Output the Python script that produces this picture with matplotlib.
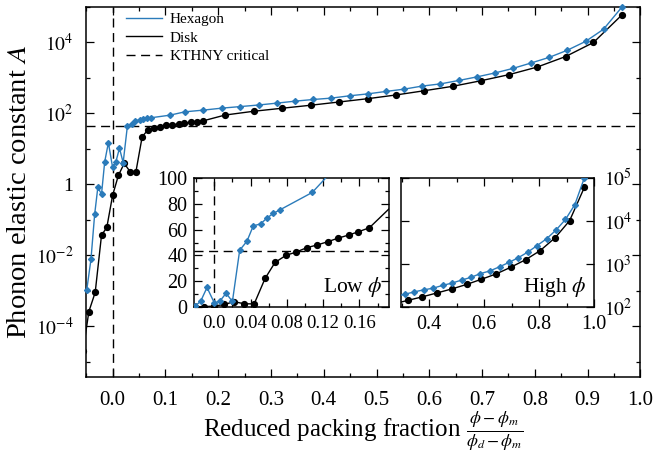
import numpy as np
import matplotlib
matplotlib.use("Agg")
import matplotlib.pyplot as plt
from matplotlib.ticker import FixedLocator, FuncFormatter, MultipleLocator, NullLocator
from matplotlib.lines import Line2D

plt.rcParams['font.family'] = ['Liberation Serif', 'DejaVu Serif']
plt.rcParams['mathtext.fontset'] = 'stix'

# ---------------- data ----------------
hex_x = [-0.049, -0.041, -0.034, -0.028, -0.021, -0.015, -0.008, 0.000, 0.006, 0.013,
         0.020, 0.028, 0.036, 0.043, 0.051, 0.058, 0.065, 0.072, 0.108, 0.137,
         0.172, 0.207, 0.242, 0.277, 0.311, 0.346, 0.380, 0.414, 0.449, 0.483,
         0.518, 0.552, 0.586, 0.621, 0.656, 0.690, 0.724, 0.758, 0.792, 0.827,
         0.861, 0.896, 0.930, 0.965]
hex_A = [1.05e-3, 7.7e-3, 0.143, 0.82, 0.53, 4.3, 15.0, 3.0, 4.2, 10.5,
         4.1, 44.0, 51.0, 63.0, 64.5, 69.0, 72.7, 75.3, 89.0, 111.0,
         124.0, 141.0, 156.0, 173.0, 195.0, 222.0, 247.0, 270.0, 314.0, 355.0,
         417.0, 483.0, 589.0, 680.0, 850.0, 1070.0, 1380.0, 1850.0, 2620.0, 3800.0,
         6000.0, 10700.0, 23600.0, 1.0e5]

disk_x = [-0.056, -0.045, -0.033, -0.021, -0.011, 0.000, 0.011, 0.022, 0.033, 0.044,
          0.056, 0.067, 0.079, 0.090, 0.102, 0.113, 0.125, 0.136, 0.148, 0.159,
          0.171, 0.213, 0.267, 0.321, 0.375, 0.429, 0.483, 0.536, 0.590, 0.644,
          0.697, 0.751, 0.804, 0.858, 0.911, 0.965]
disk_A = [2.0e-5, 2.6e-4, 9.0e-4, 0.037, 0.061, 0.49, 1.8, 3.9, 2.3, 2.2,
          22.0, 34.5, 40.0, 42.5, 46.0, 48.0, 50.6, 53.3, 55.8, 58.4,
          61.5, 90.0, 115.0, 140.0, 170.0, 210.0, 260.0, 330.0, 435.0, 580.0,
          830.0, 1240.0, 2020.0, 4000.0, 1.0e4, 6.0e4]

A_kthny = 43.5
series_labels = ["Hexagon", "Disk", "KTHNY critical"]

main_xticks = [0.0, 0.1, 0.2, 0.3, 0.4, 0.5, 0.6, 0.7, 0.8, 0.9, 1.0]
main_yticks = [1e-4, 1e-2, 1, 1e2, 1e4]
main_yminor = [1e-5, 1e-3, 1e-1, 1e1, 1e3, 1e5]
low_xticks = [0.0, 0.04, 0.08, 0.12, 0.16]
low_yticks = [0, 20, 40, 60, 80, 100]
high_xticks = [0.4, 0.6, 0.8, 1.0]
high_yticks = [1e2, 1e3, 1e4, 1e5]

BLUE = '#2b7bba'
DASH = (0, (6.5, 4))

fig = plt.figure(figsize=(6.53, 4.54), dpi=100)


def style(ax, xfs, yfs):
    ax.tick_params(which='both', direction='in', top=True, right=True, width=0.9)
    ax.tick_params(axis='x', labelsize=xfs)
    ax.tick_params(axis='y', labelsize=yfs)
    ax.tick_params(which='major', length=5.5)
    ax.tick_params(which='minor', length=3.2)
    for s in ax.spines.values():
        s.set_linewidth(1.1)


def plot_series(ax, clip=True):
    ax.plot(disk_x, disk_A, '-', color='black', lw=1.0, marker='o', ms=4.2,
            clip_on=True, zorder=3)
    ax.plot(hex_x, hex_A, '-', color=BLUE, lw=1.0, marker='D', ms=3.0,
            clip_on=clip, zorder=4)


def log_fmt(v, pos):
    if v <= 0:
        return ''
    e = int(round(np.log10(v)))
    if e == 0:
        return '1'
    return r'$10^{%d}$' % e


# ---------------- main axes ----------------
ax = fig.add_axes([0.1317, 0.1703, 0.8491, 0.8143])
ax.set_yscale('log')
plot_series(ax, clip=False)
ax.axhline(A_kthny, color='black', lw=1.0, ls=DASH, zorder=2)
ax.axvline(0.0, color='black', lw=1.0, ls=DASH, zorder=2)
ax.set_xlim(-0.0504, 1.0)
ax.set_ylim(10 ** -5.42, 1e5)
ax.xaxis.set_major_locator(FixedLocator(main_xticks))
ax.xaxis.set_minor_locator(MultipleLocator(0.05))
ax.xaxis.set_major_formatter(FuncFormatter(lambda v, p: '%.1f' % v))
ax.yaxis.set_major_locator(FixedLocator(main_yticks))
ax.yaxis.set_minor_locator(FixedLocator(main_yminor))
ax.yaxis.set_major_formatter(FuncFormatter(log_fmt))
ax.yaxis.set_minor_formatter(FuncFormatter(lambda v, p: ''))
style(ax, 15, 14)
ax.tick_params(axis='x', pad=10)
ax.tick_params(axis='y', pad=9)
ax.set_xlabel(r'Reduced packing fraction $\frac{\phi-\phi_m}{\phi_d-\phi_m}$',
              fontsize=18, labelpad=0)
ax.set_ylabel(r'Phonon elastic constant $A$', fontsize=20.5, labelpad=3)

handles = [Line2D([], [], color=BLUE, lw=1.0),
           Line2D([], [], color='black', lw=1.0),
           Line2D([], [], color='black', lw=1.0, ls=DASH)]
ax.legend(handles, series_labels, loc='upper left', bbox_to_anchor=(0.055, 1.01),
          frameon=False, fontsize=11, handlelength=2.4, labelspacing=0.32,
          handletextpad=0.5, borderaxespad=0.2)

# ---------------- inset: low phi ----------------
ax1 = fig.add_axes([0.2976, 0.3244, 0.2986, 0.2828])
plot_series(ax1)
ax1.axhline(A_kthny, color='black', lw=1.0, ls=DASH, zorder=2)
ax1.axvline(0.0, color='black', lw=1.0, ls=DASH, zorder=2)
ax1.set_xlim(-0.022, 0.193)
ax1.set_ylim(0, 100)
ax1.xaxis.set_major_locator(FixedLocator(low_xticks))
ax1.xaxis.set_minor_locator(MultipleLocator(0.02))
ax1.xaxis.set_major_formatter(FuncFormatter(lambda v, p: '0.0' if abs(v) < 1e-9 else '%.2f' % v))
ax1.yaxis.set_major_locator(FixedLocator(low_yticks))
ax1.yaxis.set_minor_locator(MultipleLocator(10))
style(ax1, 13.5, 14.5)
ax1.tick_params(axis='x', pad=6)
ax1.tick_params(axis='y', pad=5)
ax1.text(0.965, 0.15, r'Low $\phi$', transform=ax1.transAxes, ha='right',
         va='center', fontsize=15.5)

# ---------------- inset: high phi ----------------
ax2 = fig.add_axes([0.6141, 0.3244, 0.2956, 0.2842])
ax2.set_yscale('log')
plot_series(ax2)
ax2.set_xlim(0.297, 1.0)
ax2.set_ylim(1e2, 1e5)
ax2.xaxis.set_major_locator(FixedLocator(high_xticks))
ax2.xaxis.set_minor_locator(MultipleLocator(0.1))
ax2.xaxis.set_major_formatter(FuncFormatter(lambda v, p: '%.1f' % v))
ax2.yaxis.set_major_locator(FixedLocator(high_yticks))
ax2.yaxis.set_minor_locator(NullLocator())
ax2.yaxis.set_major_formatter(FuncFormatter(log_fmt))
style(ax2, 14.5, 14)
ax2.tick_params(axis='y', labelleft=False, labelright=True, pad=7)
ax2.tick_params(axis='x', pad=6)
ax2.text(0.96, 0.15, r'High $\phi$', transform=ax2.transAxes, ha='right',
         va='center', fontsize=15.5)

fig.savefig('out.png', dpi=100)
